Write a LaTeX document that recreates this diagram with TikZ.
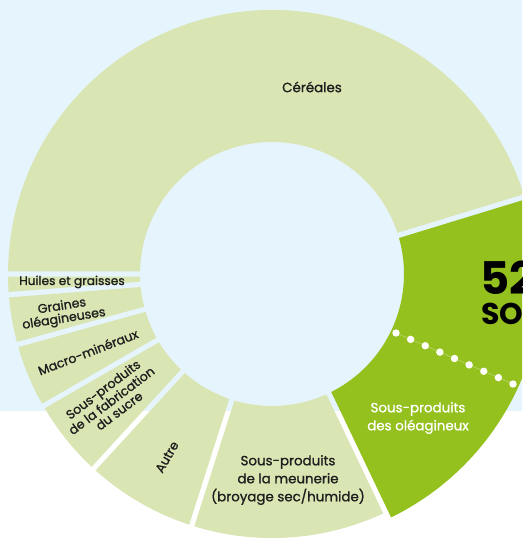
\documentclass[tikz,border=0pt]{standalone}
\usepackage{fontspec}
\setmainfont{Poppins}
\newfontfamily\labelfont{Poppins}[FakeBold=1.1]
\usepackage{xcolor}
\usetikzlibrary{positioning}
\usetikzlibrary{calc}

\definecolor{bgblue}{RGB}{230,244,253}
\definecolor{palegreen}{RGB}{217,229,179}
\definecolor{limegreen}{RGB}{149,193,31}
\definecolor{labelink}{RGB}{30,30,30}

% halbe Spaltbreite und Innenradius (in pt)
\newcommand{\halfgap}{2.7}
\newcommand{\innerrad}{132}
% Ringsegment: Startwinkel, Endwinkel, Aussenradius, Farbe
\newcommand{\ringsegment}[4]{%
  \fill[#4] ({#1+asin(\halfgap/#3)}:#3pt)
    arc[start angle={#1+asin(\halfgap/#3)}, end angle={#2-asin(\halfgap/#3)}, radius=#3pt]
    -- ({#2-asin(\halfgap/\innerrad)}:\innerrad pt)
    arc[start angle={#2-asin(\halfgap/\innerrad)}, end angle={#1+asin(\halfgap/\innerrad)}, radius=\innerrad pt]
    -- cycle;}

\begin{document}
\begin{tikzpicture}
    [
      x=1pt, y=1pt,
      % Beschriftung der Segmente
      lbl/.style={text=labelink, align=center, font=\labelfont\fontsize{13.4}{18}\selectfont, inner sep=0pt},
      smalllbl/.style={lbl, font=\labelfont\fontsize{12.6}{12.8}\selectfont},
      % Beschriftung im hervorgehobenen Segment
      lblwhite/.style={lbl, text=white},
      bignum/.style={text=black, font=\bfseries\fontsize{45}{45}\selectfont, inner sep=0pt, anchor=base west},
      bigword/.style={text=black, font=\bfseries\fontsize{30}{30}\selectfont, inner sep=0pt, anchor=base west}
    ]
    \useasboundingbox (0,0) rectangle (522,540);
    \clip (0,0) rectangle (522,540);
    % Hintergrund
    \fill[bgblue] (0,129) rectangle (522,540);
    \fill[white] (0,0) rectangle (522,129);

    % Ring
    \begin{scope}[shift={(272,266)}]
      \ringsegment{17}{180}{264}{palegreen}
      \ringsegment{180}{184.5}{264}{palegreen}
      \ringsegment{184.5}{195.5}{264}{palegreen}
      \ringsegment{195.5}{210}{264}{palegreen}
      \ringsegment{210}{227.5}{264}{palegreen}
      \ringsegment{227.5}{252.3}{264}{palegreen}
      \ringsegment{252.3}{295.5}{264}{palegreen}
      \ringsegment{295.5}{377}{271}{limegreen}
    \end{scope}

    % Knoten
    \node[lbl] (cereales) at (312,453) {Céréales};
    \node[smalllbl, font=\labelfont\fontsize{12.2}{12}\selectfont] (huiles) at (72,258) {Huiles et graisses};
    \node[smalllbl, rotate=9] (graines) at (63,227) {Graines\\oléagineuses};
    \node[smalllbl, rotate=21] (macro) at (88,188) {Macro-minéraux};
    \node[smalllbl, rotate=37] (sucre) at (111,140) {Sous-produits\\de la fabrication\\du sucre};
    \node[smalllbl, rotate=60] (autre) at (167,83) {Autre};
    \node[lbl] (meunerie) at (288,60) {Sous-produits\\de la meunerie\\(broyage sec/humide)};
    \node[lblwhite] (oleagineux) at (418,122) {Sous-produits\\des oléagineux};
    \node[bignum] (share) at (480,245) {52};
    \node[bigword] (shareword) at (481,215) {SO};

    % gepunktete Linie
    \coordinate (dotstart) at (396,207);
    \coordinate (dotend) at (513,156);
    \draw[white, opacity=0.35, line width=0.6pt] (dotstart) -- (dotend);
    \foreach \k in {0,...,8}
      \fill[white] ($(dotstart)!\k/8!(dotend)$) circle (3.7);
\end{tikzpicture}
\end{document}
